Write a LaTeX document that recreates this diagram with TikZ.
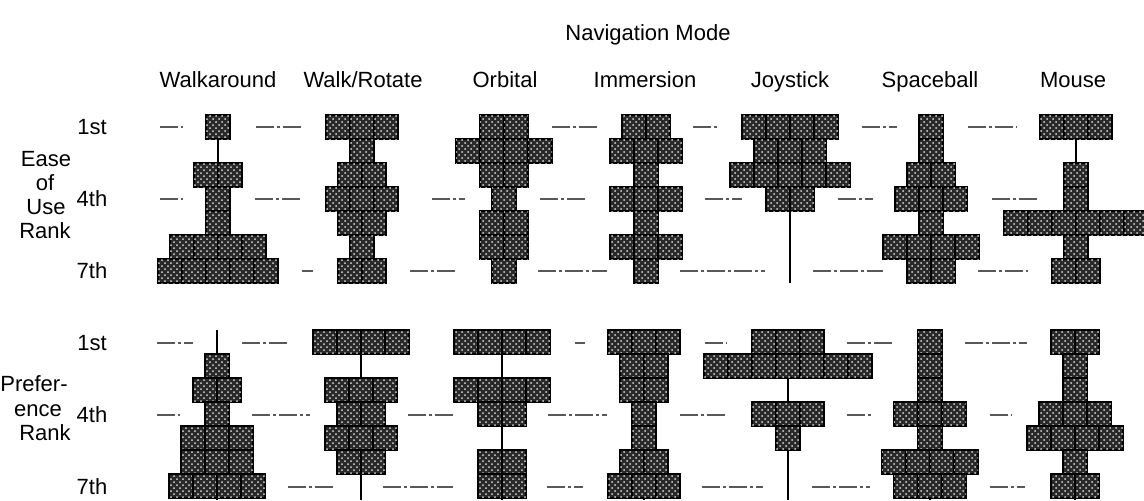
\documentclass[tikz,border=0pt]{standalone}
\usepackage{fontspec}
\setmainfont{Liberation Sans}
\usetikzlibrary{patterns}
\tikzset{
    casilla/.style={draw=black, line width=1.2pt, fill=black!84,
        postaction={pattern=crosshatch dots, pattern color=white!85!black}},
    eje/.style={line width=0.9pt},
    guia/.style={line width=0.55pt, black!65,
        dash pattern=on 9pt off 1.5pt on 1.5pt off 1.5pt},
    rotulo/.style={font=\fontsize{11}{13}\selectfont, inner sep=0pt, anchor=base}}

\begin{document}
\begin{tikzpicture}[x=0.5pt, y=-0.5pt]
    \useasboundingbox (0,0) rectangle (1144,500);

    % titulos
    \node[rotulo] (titulo) at (648,40) {Navigation Mode};
    \foreach \nombre/\cx/\texto in {walk/218/Walkaround, walkrot/363/{Walk/Rotate},
        orbital/505/Orbital, inmersion/645/Immersion, joystick/790/Joystick,
        spaceball/930/Spaceball, mouse/1073/Mouse}
        \node[rotulo] (\nombre) at (\cx,87) {\texto};

    % rotulos de rango
    \node[rotulo] (ease) at (46,166) {Ease};
    \node[rotulo] (of) at (45,190) {of};
    \node[rotulo] (use) at (46,214) {Use};
    \node[rotulo] (rankA) at (45,238) {Rank};
    \node[rotulo] (prefer) at (34,391) {Prefer-};
    \node[rotulo] (ence) at (38,416) {ence};
    \node[rotulo] (rankB) at (45,440) {Rank};
    \foreach \nombre/\yr/\texto in {e1/134/1st, e4/206/4th, e7/278/7th,
        p1/350/1st, p4/422/4th, p7/494/7th}
        \node[rotulo] (\nombre) at (92,\yr) {\texto};

    % guias
    \foreach \xa/\xb/\yg in {160/183/127, 256/303/127, 552/598/127, 693/717/127,
        862/897/127, 968/1017/127,
        160/183/199, 255/303/199, 432/465/199, 540/587/199, 705/742/199,
        838/873/199, 992/1040/199,
        302/313/271, 410/458/271, 538/607/271, 680/765/271, 813/883/271,
        978/1028/271,
        157/193/343, 242/290/343, 575/585/343, 705/727/343, 847/895/343,
        965/1027/343,
        157/180/415, 252/310/415, 408/453/415, 548/607/415, 680/727/415,
        847/872/415, 990/1012/415,
        288/335/487, 383/453/487, 547/583/487, 702/763/487, 812/870/487,
        990/1025/487}
        \draw[guia] (\xa,\yg) -- (\xb,\yg);

    % Ease of Use
    \foreach \cx/\cuenta in {218/{1,0,2,1,1,4,5}, 362/{3,1,2,3,2,1,2},
        504/{2,4,2,1,2,2,1}, 646/{2,3,1,3,1,3,1}, 790/{4,3,5,2,0,0,0},
        931/{1,1,2,3,1,4,2}, 1076/{3,0,1,1,6,1,2}}{
        \draw[eje] (\cx,115) -- (\cx,283);
        \foreach \n [count=\r] in \cuenta {
            \ifnum\n>0
                \foreach \k in {1,...,\n}
                    \draw[casilla] ({\cx-12*\n+24*(\k-1)},{91+24*\r}) rectangle +(24,24);
            \fi
        }
    }

    % Preference
    \foreach \cx/\cuenta in {217/{0,1,2,1,3,3,4}, 361/{4,0,3,2,3,2,0},
        502/{4,0,4,2,0,2,2}, 644/{3,2,2,1,1,2,3}, 788/{3,7,0,3,1,0,0},
        930/{1,1,1,3,1,4,3}, 1075/{2,1,1,3,4,1,2}}{
        \draw[eje] (\cx,330) -- (\cx,500);
        \foreach \n [count=\r] in \cuenta {
            \ifnum\n>0
                \foreach \k in {1,...,\n}
                    \draw[casilla] ({\cx-12*\n+24*(\k-1)},{306+24*\r}) rectangle +(24,24);
            \fi
        }
    }
\end{tikzpicture}
\end{document}
